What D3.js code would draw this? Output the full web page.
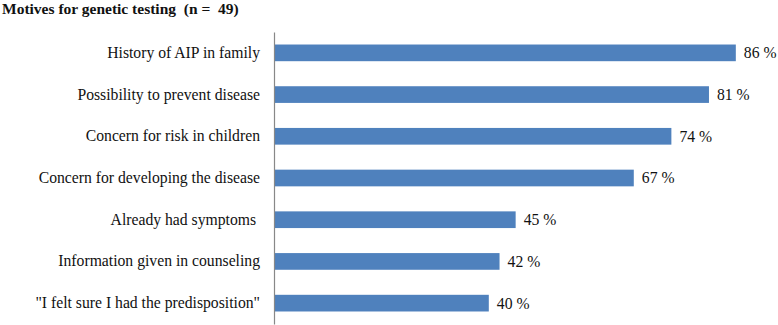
<!DOCTYPE html>
<html>
<head>
<meta charset="utf-8">
<script src="https://cdn.jsdelivr.net/npm/d3@7"></script>
<style>
  body { margin: 0; background: #fff; }
  text { font-family: "Liberation Serif", "Times New Roman", serif; fill: #111; white-space: pre; }
</style>
</head>
<body>
<div id="chart"></div>
<script>
const categories = [
  "History of AIP in family",
  "Possibility to prevent disease",
  "Concern for risk in children",
  "Concern for developing the disease",
  "Already had symptoms ",
  "Information given in counseling",
  "\"I felt sure I had the predisposition\""
];
const values = [86, 81, 74, 67, 45, 42, 40];
const valueLabels = ["86 %", "81 %", "74 %", "67 %", "45 %", "42 %", "40 %"];

const width = 778, height = 325;
const svg = d3.select("#chart")
  .append("svg")
  .attr("width", width)
  .attr("height", height);

const x = d3.scaleLinear()
  .domain([0, 100])
  .range([274, 811]);

const y = d3.scaleBand()
  .domain(categories)
  .range([32, 324])
  .paddingInner(0.6)
  .paddingOuter(0.3);

// title
svg.append("text")
  .attr("x", 2)
  .attr("y", 14)
  .style("font-size", "15.5px")
  .style("font-weight", "bold")
  .text("Motives for genetic testing  (n =  49)");

// bars
svg.append("g")
  .selectAll("rect")
  .data(values)
  .join("rect")
  .attr("x", x(0))
  .attr("y", (d, i) => y(categories[i]))
  .attr("width", d => x(d) - x(0))
  .attr("height", y.bandwidth())
  .attr("fill", "#4F81BD");

// value labels
svg.append("g")
  .selectAll("text")
  .data(values)
  .join("text")
  .attr("x", d => x(d) + 8)
  .attr("y", (d, i) => y(categories[i]) + y.bandwidth() / 2)
  .attr("dy", "0.35em")
  .style("font-size", "15.7px")
  .text((d, i) => valueLabels[i]);

// category axis
const axis = svg.append("g")
  .attr("transform", `translate(${x(0)},0)`)
  .call(d3.axisLeft(y).tickSize(0).tickPadding(14));
axis.select(".domain").attr("stroke", "#888").attr("stroke-width", 1.2);
axis.selectAll("text")
  .style("font-size", "15.7px")
  .style("font-family", "'Liberation Serif', 'Times New Roman', serif")
  .attr("fill", "#111");
</script>
</body>
</html>
